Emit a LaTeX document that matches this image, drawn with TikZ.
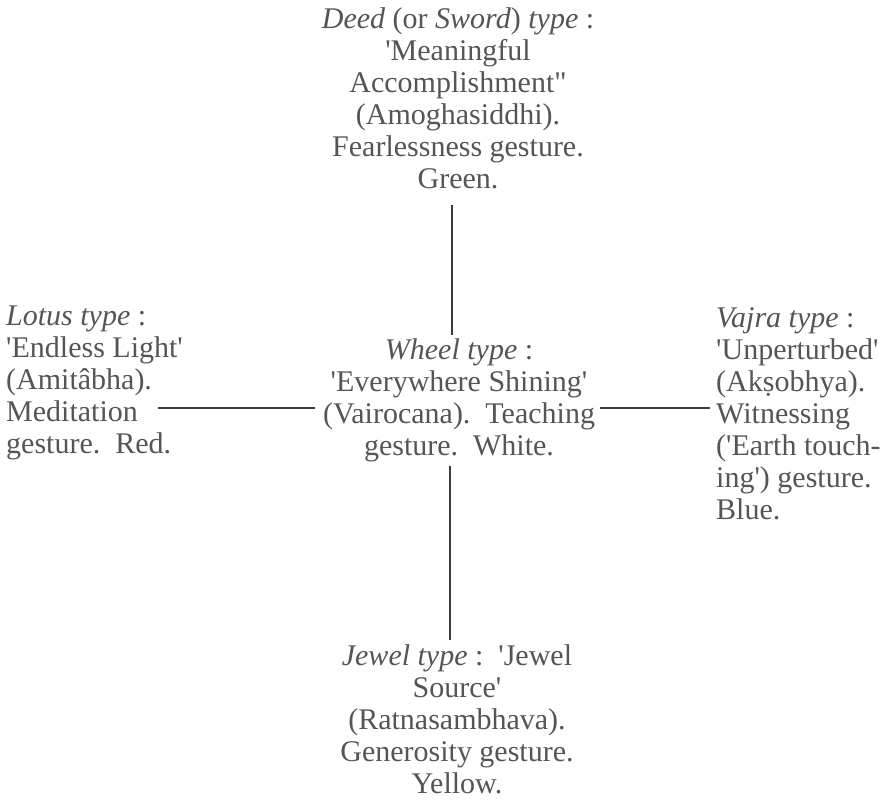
\documentclass[tikz,border=0pt]{standalone}
\usepackage{fontspec}
\setmainfont{Liberation Serif}
\definecolor{txt}{RGB}{85,85,85}
\definecolor{ln}{RGB}{60,60,60}
\newcommand{\sq}{\textquotesingle}
\newcommand{\dq}{\textquotedbl}
\begin{document}
\begin{tikzpicture}[x=1pt,y=-1pt,
  lbl/.style={inner sep=0pt,text=txt,font=\fontsize{30}{32}\selectfont},
  ctr/.style={lbl,align=center},
  lft/.style={lbl,align=left},
  conn/.style={draw=ln,line width=1.4pt}]
\useasboundingbox (0,0) rectangle (884,804);
\node[ctr,anchor=north] (deed) at (458,7.5) {\textit{Deed} (or \textit{Sword}) \textit{type} :\\\sq Meaningful\\Accomplishment\dq\\(Amoghasiddhi).\\Fearlessness gesture.\\Green.};
\node[lft,anchor=north west] (lotus) at (6,305.5) {\textit{Lotus type} :\\\sq Endless Light\sq\\(Amitâbha).\\Meditation\\gesture.\ \ Red.};
\node[ctr,anchor=north] (wheel) at (459,338.5) {\textit{Wheel type} :\\\sq Everywhere Shining\sq\\(Vairocana).\ \ Teaching\\gesture.\ \ White.};
\node[lft,anchor=north west] (vajra) at (716,307.5) {\textit{Vajra type} :\\\sq Unperturbed\sq\\(Akṣobhya).\\Witnessing\\(\sq Earth touch-\\ing\sq) gesture.\\Blue.};
\node[ctr,anchor=north] (jewel) at (457,644.5) {\textit{Jewel type} :\ \ \sq Jewel\\Source\sq\\(Ratnasambhava).\\Generosity gesture.\\Yellow.};
\coordinate (t1) at (452,205);
\coordinate (t2) at (452,335);
\coordinate (b1) at (450,466);
\coordinate (b2) at (450,640);
\coordinate (l1) at (158,408);
\coordinate (l2) at (315,408);
\coordinate (r1) at (600,408);
\coordinate (r2) at (710,408);
\draw[conn] (t1) -- (t2);
\draw[conn] (b1) -- (b2);
\draw[conn] (l1) -- (l2);
\draw[conn] (r1) -- (r2);
\end{tikzpicture}
\end{document}
